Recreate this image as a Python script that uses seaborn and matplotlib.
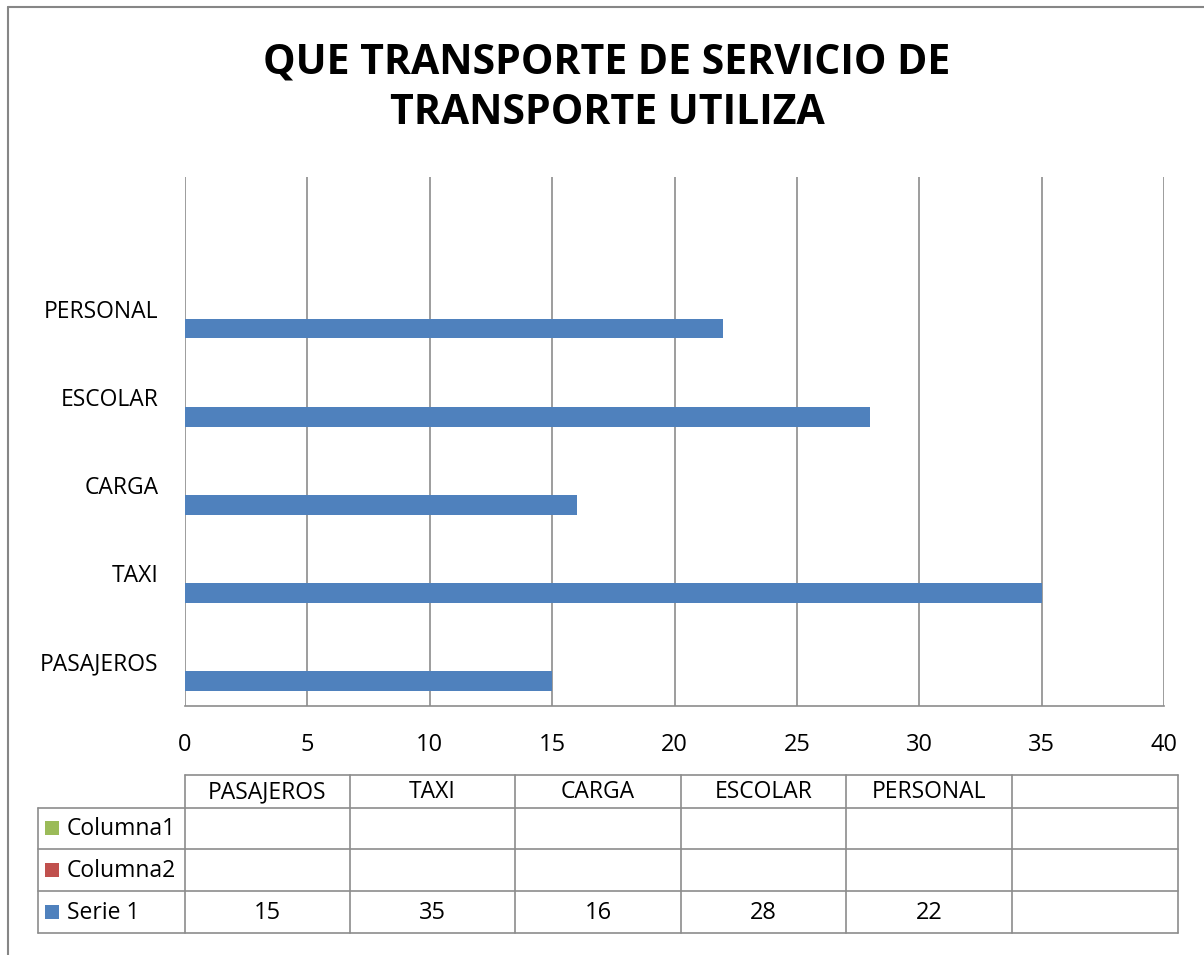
import numpy as np
import pandas as pd
import matplotlib
matplotlib.use("Agg")
import matplotlib.pyplot as plt
from matplotlib.lines import Line2D
from matplotlib.patches import Rectangle
import seaborn as sns

# ---- data ----
title = "QUE TRANSPORTE DE SERVICIO DE\nTRANSPORTE UTILIZA"
categories = ["PASAJEROS", "TAXI", "CARGA", "ESCOLAR", "PERSONAL"]
series_names = ["Columna1", "Columna2", "Serie 1"]
columna1 = [np.nan, np.nan, np.nan, np.nan, np.nan]
columna2 = [np.nan, np.nan, np.nan, np.nan, np.nan]
serie1 = [15, 35, 16, 28, 22]
series_colors = ["#9BBB59", "#C0504D", "#4F81BD"]
x_ticks = [0, 5, 10, 15, 20, 25, 30, 35, 40]

sns.set_theme(style="white")
FONT = "Open Sans"
plt.rcParams["font.family"] = [FONT, "DejaVu Sans"]

W, H = 1204, 955
fig = plt.figure(figsize=(W / 100, H / 100), dpi=100)

def fx(px):
    return px / W

def fy(py):
    return 1 - py / H

# outer chart frame (left and top edges visible)
fig.add_artist(Line2D([fx(8), fx(8)], [fy(7), fy(955)], color="#868686", lw=1.5))
fig.add_artist(Line2D([fx(8), fx(1204)], [fy(7), fy(7)], color="#868686", lw=1.5))

# ---- plot area ----
ax = fig.add_axes([fx(185), fy(705.5), fx(1164) - fx(185), fy(177) - fy(705.5)])

df = pd.DataFrame({
    "categoria": categories * 3,
    "valor": columna1 + columna2 + serie1,
    "serie": [series_names[0]] * 5 + [series_names[1]] * 5 + [series_names[2]] * 5,
})

sns.barplot(data=df, y="categoria", x="valor", hue="serie",
            order=categories[::-1], hue_order=series_names,
            palette=dict(zip(series_names, series_colors)),
            orient="h", width=2 / 3, errorbar=None, legend=False,
            saturation=1, ax=ax, linewidth=0)

ax.set_xlim(0, 40)
ax.set_ylim(len(categories) - 0.5, -1.5)
ax.set_xticks(x_ticks)
ax.set_xticklabels([str(t) for t in x_ticks], fontsize=17, color="black")
ax.tick_params(axis="x", length=0, pad=20)
ax.tick_params(axis="y", length=0, pad=19, labelsize=16.5, labelcolor="black")
ax.set_xlabel("")
ax.set_ylabel("")
ax.grid(axis="x", color="#8c8c8c", lw=1.2)
ax.grid(axis="y", visible=False)
ax.set_axisbelow(True)
for s in ["top", "right", "left"]:
    ax.spines[s].set_visible(False)
ax.spines["bottom"].set_color("#8c8c8c")
ax.spines["bottom"].set_linewidth(1.2)

# ---- title ----
fig.text(fx(607), fy(88), title, ha="center", va="center",
         fontsize=29.5, fontweight="bold", color="black", linespacing=1.3)

# ---- data table ----
col_edges = [185, 350, 515, 681, 846, 1012, 1178]
row_edges = [775, 807.5, 849, 891, 932.5]
row_left = 38
lc = "#8c8c8c"
tlw = 1.2
fig.add_artist(Line2D([fx(col_edges[0]), fx(col_edges[-1])], [fy(row_edges[0])] * 2, color=lc, lw=tlw))
for r in row_edges[1:]:
    fig.add_artist(Line2D([fx(row_left), fx(col_edges[-1])], [fy(r)] * 2, color=lc, lw=tlw))
for c in col_edges:
    fig.add_artist(Line2D([fx(c)] * 2, [fy(row_edges[0]), fy(row_edges[-1])], color=lc, lw=tlw))
fig.add_artist(Line2D([fx(row_left)] * 2, [fy(row_edges[1]), fy(row_edges[-1])], color=lc, lw=tlw))

TFS = 16.5
table_labels = categories + [""]
for i, lab in enumerate(table_labels):
    cx = (col_edges[i] + col_edges[i + 1]) / 2
    fig.text(fx(cx), fy((row_edges[0] + row_edges[1]) / 2 + 1), lab,
             ha="center", va="center", fontsize=TFS, color="black")

table_rows = [columna1, columna2, serie1]
for j, (name, vals, col) in enumerate(zip(series_names, table_rows, series_colors)):
    cy = (row_edges[j + 1] + row_edges[j + 2]) / 2
    fig.add_artist(Rectangle((fx(45), fy(cy + 7)), fx(14), fy(0) - fy(14),
                             facecolor=col, edgecolor="none"))
    fig.text(fx(67), fy(cy + 1), name, ha="left", va="center", fontsize=TFS, color="black")
    for i, v in enumerate(vals):
        if v is not None and not (isinstance(v, float) and np.isnan(v)):
            cx = (col_edges[i] + col_edges[i + 1]) / 2
            fig.text(fx(cx), fy(cy + 1), f"{v:g}", ha="center", va="center",
                     fontsize=17, color="black")

fig.savefig("out.png", dpi=100)
